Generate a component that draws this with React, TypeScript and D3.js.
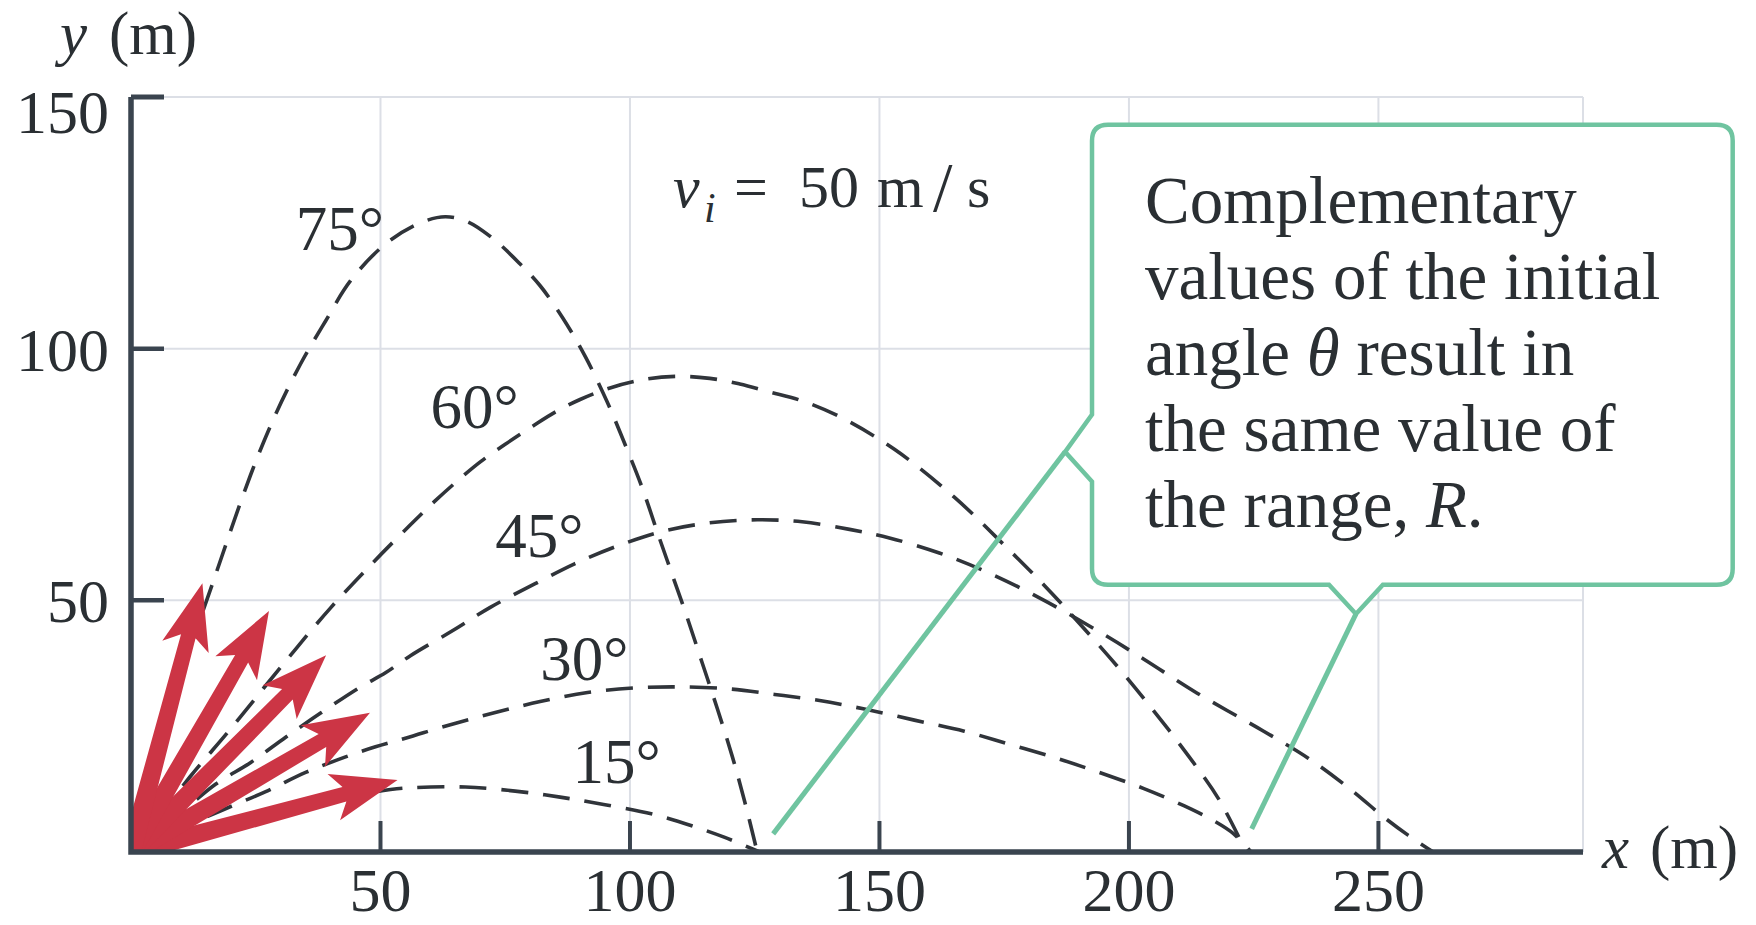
import React from 'react';
import * as d3 from 'd3';

type Pt = [number, number];

// Launch angles of the five trajectories, in degrees
const launchAngles = [15, 30, 45, 60, 75];

// Trajectory samples (x, y) in metres, one list per launch angle
const path15: Pt[] = [
  [0, 0], [14, 3.6], [28, 7.3], [42, 10.6], [52, 12.4], [57, 12.8], [67, 12.9],
  [77, 12.1], [86, 10.9], [95, 9.4], [105, 7.4], [113, 5.0], [119, 2.9], [126, 0],
];
const path30: Pt[] = [
  [0, 0], [10, 4.7], [18, 8.2], [27, 12], [35, 15.8], [43, 18.9], [49, 20.9],
  [55, 22.6], [64, 25.3], [73, 27.7], [82, 29.9], [91.5, 31.7], [101, 32.6],
  [110, 32.8], [120, 32.4], [129, 31.3], [138, 30.1], [147, 28.4], [157, 26.2],
  [167, 24], [176, 21.4], [185, 18.8], [193.5, 16], [203, 12.6], [211, 9.2],
  [217, 6.2], [221, 3.6], [224.5, 0],
];
const path45: Pt[] = [
  [0, 0], [10, 7.8], [17, 13.5], [24, 17.8], [31, 22.8], [38, 27.6], [46, 32.8],
  [51, 35.6], [56, 39], [64.5, 44], [72, 48.6], [81, 53.3], [89, 57.3],
  [97.5, 60.8], [106.5, 63.7], [116, 65.4], [125.5, 66], [134.5, 65.6],
  [144, 64.1], [152, 62.4], [162, 59.4], [172, 55.4], [183, 50], [195, 43.2],
  [203, 38.3], [213.6, 31.6], [227, 24], [236, 18.6], [244.6, 12.3], [251, 7],
  [256, 3.3], [261, 0],
];
const path60: Pt[] = [
  [0, 0], [11.8, 14.9], [20, 24.5], [29.9, 36.6], [40, 48.5], [48.5, 57.5],
  [56, 65], [61, 69.8], [65.5, 73.8], [70, 77.5], [75, 81], [80.5, 84.6],
  [85, 87.4], [90, 89.9], [96, 92.2], [103.6, 94], [110, 94.5],
  [116, 94.1], [122, 93], [128, 91.4], [134, 89.8], [142, 86.5], [153, 80],
  [165, 70.5], [176, 60], [183, 53], [190, 45.5], [198, 36.5], [205, 28],
  [212, 19], [218, 10.5], [223.5, 0],
];
const path75: Pt[] = [
  [0, 0], [8, 29], [16.4, 53.5], [24, 75], [29, 87], [34, 97], [39, 105.5],
  [44, 113.5], [51, 120.8], [58, 125], [63, 126.2], [67.5, 125.2], [73, 121.5],
  [78, 116.8], [82, 112.5], [86.6, 106], [91, 98.5], [95.4, 89.5], [99, 81],
  [102.4, 72.5], [105.5, 63.5], [108.5, 55], [111.5, 46.5], [114.5, 37.5],
  [117.5, 28.5], [120.5, 19], [123, 10], [125.5, 0],
];
const trajectoryPaths = [path15, path30, path45, path60, path75];

// Axis ticks and extents, in metres
const xTickValues = [50, 100, 150, 200, 250];
const yTickValues = [50, 100, 150];
const xExtent = 291;
const yExtent = 150;

// Initial-velocity arrows: common length in metres
const arrowLength = 55.3;
const launchSpeed = 50; // m/s

const calloutLines = [
  ['Complementary'],
  ['values of the initial'],
  ['angle ', 'θ', ' result in'],
  ['the same value of'],
  ['the range, ', 'R', '.'],
];

// ---- layout ----
const W = 1756;
const H = 925;
const PLOT = { left: 131, right: 1583, top: 97, bottom: 852 };

const xScale = d3.scaleLinear().domain([0, xExtent]).range([PLOT.left, PLOT.right]);
const yScale = d3.scaleLinear().domain([0, yExtent]).range([PLOT.bottom, PLOT.top]);

// Label anchors (m) for the angle captions: x of the left edge, y of the baseline
const angleLabelAnchors: Pt[] = [[88.5, 13.7], [82, 34.2], [73, 58.6], [60, 84.3], [33, 119.7]];

const INK = '#2a2f33';
const AXIS = '#3a444f';
const GRID = '#dcdfe6';
const GREEN = '#6fc4a0';
const RED = '#cc3545';
const SERIF = '"Liberation Serif", "Times New Roman", Times, serif';

const trajectoryLine = d3
  .line<Pt>()
  .x((d) => xScale(d[0]))
  .y((d) => yScale(d[1]))
  .curve(d3.curveCatmullRom.alpha(0.5));

function arrowPath(angleDeg: number): string {
  const x0 = xScale(0);
  const y0 = yScale(0);
  const rad = (angleDeg * Math.PI) / 180;
  const tx = xScale(arrowLength * Math.cos(rad));
  const ty = yScale(arrowLength * Math.sin(rad));
  const dx = tx - x0;
  const dy = ty - y0;
  const L = Math.hypot(dx, dy);
  const ux = dx / L;
  const uy = dy / L;
  const nx = -uy;
  const ny = ux;
  const P = (u: number, v: number) => `${x0 + ux * u + nx * v},${y0 + uy * u + ny * v}`;
  const pts = [P(0, -10), P(L - 55, -7.5), P(L - 66, -24), P(L, 0), P(L - 66, 24), P(L - 55, 7.5), P(0, 10)];
  return 'M' + pts.join('L') + 'Z';
}

// Callout geometry, in metres
const box = { x0: 192.6, x1: 321, y0: 53.1, y1: 144.5 };
const leftNotch = { yLow: 73.6, yHigh: 86.9 };
const bottomNotch = { xLeft: 240.1, xRight: 250.9 };
const leader1 = { tip: [187.2, 79.5] as Pt, end: [128.7, 3.6] as Pt };
const leader2 = { tip: [245.5, 47.3] as Pt, end: [224.6, 4.6] as Pt };

function calloutPath(): string {
  const L = xScale(box.x0);
  const R = xScale(box.x1);
  const T = yScale(box.y1);
  const B = yScale(box.y0);
  const r = 16;
  const t1x = xScale(leader1.tip[0]);
  const t1y = yScale(leader1.tip[1]);
  const t2x = xScale(leader2.tip[0]);
  const t2y = yScale(leader2.tip[1]);
  return [
    `M${L + r},${T}`,
    `H${R - r}`,
    `Q${R},${T} ${R},${T + r}`,
    `V${B - r}`,
    `Q${R},${B} ${R - r},${B}`,
    `H${xScale(bottomNotch.xRight)}`,
    `L${t2x},${t2y}`,
    `L${xScale(bottomNotch.xLeft)},${B}`,
    `H${L + r}`,
    `Q${L},${B} ${L},${B - r}`,
    `V${yScale(leftNotch.yLow)}`,
    `L${t1x},${t1y}`,
    `L${L},${yScale(leftNotch.yHigh)}`,
    `V${T + r}`,
    `Q${L},${T} ${L + r},${T}`,
    'Z',
  ].join(' ');
}

export default function App() {
  const x0 = xScale(0);
  const y0 = yScale(0);
  const discR = 34;

  return (
    <svg
      width={W}
      height={H}
      viewBox={`0 0 ${W} ${H}`}
      style={{ position: 'absolute', left: 0, top: 0, background: '#fff', display: 'block' }}
      fontFamily={SERIF}
    >
      <defs>
        <clipPath id="quadrant">
          <rect x={x0} y={0} width={W - x0} height={y0} />
        </clipPath>
      </defs>
      <rect x={0} y={0} width={W} height={H} fill="#fff" />

      {/* grid */}
      <g stroke={GRID} strokeWidth={2} fill="none">
        {xTickValues.map((v) => (
          <line key={`gx${v}`} x1={xScale(v)} x2={xScale(v)} y1={yScale(0)} y2={yScale(yExtent)} />
        ))}
        <line x1={xScale(xExtent)} x2={xScale(xExtent)} y1={yScale(0)} y2={yScale(yExtent)} />
        {yTickValues.map((v) => (
          <line key={`gy${v}`} x1={xScale(0)} x2={xScale(xExtent)} y1={yScale(v)} y2={yScale(v)} />
        ))}
      </g>

      {/* trajectories */}
      <g fill="none" stroke="#30343a" strokeWidth={3.6} strokeDasharray="27 15">
        {trajectoryPaths.map((pts, i) => (
          <path key={`t${launchAngles[i]}`} d={trajectoryLine(pts) ?? ''} />
        ))}
      </g>

      {/* angle captions */}
      <g fill={INK} fontSize={63}>
        {launchAngles.map((a, i) => (
          <text key={`l${a}`} x={xScale(angleLabelAnchors[i][0])} y={yScale(angleLabelAnchors[i][1])}>
            {`${a}°`}
          </text>
        ))}
      </g>

      {/* initial-velocity arrows */}
      <g fill={RED} clipPath="url(#quadrant)">
        <path d={`M${x0},${y0} L${x0 + discR},${y0} A${discR},${discR} 0 0 0 ${x0},${y0 - discR} Z`} />
        {launchAngles.map((a) => (
          <path key={`a${a}`} d={arrowPath(a)} />
        ))}
      </g>

      {/* axes */}
      <g stroke={AXIS} fill="none">
        <path
          d={`M${xScale(0)},${yScale(yExtent)} V${yScale(0)} H${xScale(xExtent)}`}
          strokeWidth={5.5}
          strokeLinejoin="miter"
        />
        <line x1={xScale(0)} x2={xScale(0) + 33} y1={yScale(yExtent)} y2={yScale(yExtent)} strokeWidth={5} />
        {yTickValues
          .filter((v) => v !== yExtent)
          .map((v) => (
            <line key={`ty${v}`} x1={xScale(0)} x2={xScale(0) + 33} y1={yScale(v)} y2={yScale(v)} strokeWidth={4.5} />
          ))}
        {xTickValues.map((v) => (
          <line key={`tx${v}`} x1={xScale(v)} x2={xScale(v)} y1={yScale(0)} y2={yScale(0) - 31} strokeWidth={4} />
        ))}
      </g>

      {/* tick labels */}
      <g fill={INK} fontSize={62}>
        {yTickValues.map((v) => (
          <text key={`yl${v}`} x={109} y={yScale(v) + 22 + (v === yExtent ? 14 : 0)} textAnchor="end">
            {v}
          </text>
        ))}
        {xTickValues.map((v) => (
          <text key={`xl${v}`} x={xScale(v)} y={911} textAnchor="middle">
            {v}
          </text>
        ))}
      </g>

      {/* axis titles */}
      <g fill={INK} fontSize={61}>
        <text x={60} y={54} fontStyle="italic">y</text>
        <text x={109} y={54}>(m)</text>
        <text x={1602} y={868} fontStyle="italic">x</text>
        <text x={1650} y={868}>(m)</text>
      </g>

      {/* launch speed */}
      <g fill={INK} fontSize={60}>
        <text x={673} y={207} fontStyle="italic">v</text>
        <text x={704} y={222} fontStyle="italic" fontSize={42}>i</text>
        <text x={734} y={207}>=</text>
        <text x={799} y={207}>{launchSpeed}</text>
        <text x={877} y={207}>m</text>
        <text x={933} y={211} fontSize={70}>/</text>
        <text x={967} y={207}>s</text>
      </g>

      {/* leader lines and callout */}
      <g stroke={GREEN} strokeWidth={5} strokeLinecap="butt" fill="none">
        <line
          x1={xScale(leader1.tip[0])}
          y1={yScale(leader1.tip[1])}
          x2={xScale(leader1.end[0])}
          y2={yScale(leader1.end[1])}
        />
        <line
          x1={xScale(leader2.tip[0])}
          y1={yScale(leader2.tip[1])}
          x2={xScale(leader2.end[0])}
          y2={yScale(leader2.end[1])}
        />
      </g>
      <path d={calloutPath()} fill="#fff" stroke={GREEN} strokeWidth={4.5} strokeLinejoin="miter" />
      <g fill={INK} fontSize={67}>
        {calloutLines.map((parts, i) => (
          <text key={`c${i}`} x={1145} y={223 + i * 76}>
            {parts.map((p, j) => (
              <tspan key={j} fontStyle={p === 'θ' || p === 'R' ? 'italic' : 'normal'}>
                {p}
              </tspan>
            ))}
          </text>
        ))}
      </g>
    </svg>
  );
}
